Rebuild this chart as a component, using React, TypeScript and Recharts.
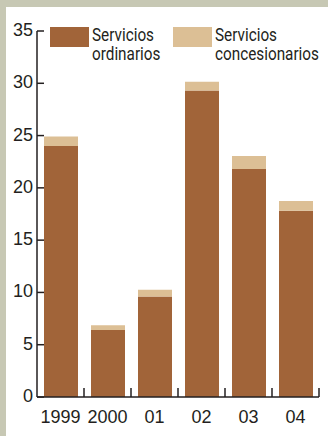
import { BarChart, Bar, XAxis, YAxis } from 'recharts'

const YEARS = ['1999', '2000', '01', '02', '03', '04']
const ORDINARIOS = [24.0, 6.4, 9.6, 29.3, 21.8, 17.8]
const CONCESIONARIOS = [0.9, 0.45, 0.65, 0.85, 1.25, 0.95]
const Y_TICKS = [0, 5, 10, 15, 20, 25, 30, 35]

const SERIES = [
    { key: 'ordinarios', lines: ['Servicios', 'ordinarios'], color: '#a16439' },
    { key: 'concesionarios', lines: ['Servicios', 'concesionarios'], color: '#dcbf95' },
]

const INK = '#231f20'
const FONT = 'Arial, "Liberation Sans", sans-serif'

const data = YEARS.map((year, i) => ({
    year,
    ordinarios: ORDINARIOS[i],
    concesionarios: CONCESIONARIOS[i],
}))

// y ticks: label left of the axis, short mark pointing into the plot
function YTick(props: any) {
    const { x, y, payload } = props
    return (
        <g>
            <line x1={x + 4} x2={x + 11} y1={y} y2={y} stroke={INK} strokeWidth={1.5} />
            <text x={x} y={y} dy={5} textAnchor="end" fontSize={18} fill={INK} fontFamily={FONT}>
                {payload.value}
            </text>
        </g>
    )
}

// x ticks: label under the band, upward mark on the band's right edge
function XTick(props: any) {
    const { x, y, payload, width, visibleTicksCount } = props
    const half = (width ?? 282) / (visibleTicksCount ?? YEARS.length) / 2
    return (
        <g>
            <line x1={x + half} x2={x + half} y1={y} y2={y - 9} stroke={INK} strokeWidth={1.5} />
            <text x={x} y={y} dy={26} textAnchor="middle" fontSize={18} fill={INK} fontFamily={FONT}>
                {payload.value}
            </text>
        </g>
    )
}

// condensed two-line legend sitting inside the plot, top left
function LegendBox() {
    return (
        <div style={{ position: 'absolute', left: 50, top: 27, display: 'flex' }}>
            {SERIES.map((s) => (
                <div key={s.key} style={{ display: 'flex', alignItems: 'flex-start', width: 123 }}>
                    <span style={{ width: 39, height: 20, background: s.color, flex: 'none' }} />
                    <span style={{
                        marginLeft: 3, marginTop: -2, fontSize: 18, lineHeight: '19px',
                        color: INK, fontFamily: 'Roboto, sans-serif', whiteSpace: 'nowrap',
                        display: 'inline-block', transform: 'scaleX(0.85)', transformOrigin: 'left top',
                    }}>
                        {s.lines[0]}<br />{s.lines[1]}
                    </span>
                </div>
            ))}
        </div>
    )
}

export default function App() {
    return (
        <div style={{ position: 'absolute', left: 0, top: 0, width: 328, height: 436, background: '#c7c8b4' }}>
            <div style={{ position: 'absolute', left: 6, top: 7, right: 0, bottom: 0, background: '#ffffff' }} />
            <div style={{ position: 'absolute', left: 0, top: 0 }}>
                <BarChart width={328} height={436} data={data} margin={{ top: 31, right: 9, left: 7, bottom: 9 }}>
                    <XAxis
                        dataKey="year"
                        height={30}
                        tickLine={false}
                        tickSize={0}
                        tickMargin={0}
                        axisLine={{ stroke: INK, strokeWidth: 1.5 }}
                        tick={<XTick />}
                        interval={0}
                    />
                    <YAxis
                        width={30}
                        domain={[0, 35]}
                        ticks={Y_TICKS}
                        tickLine={false}
                        tickSize={0}
                        tickMargin={4}
                        axisLine={{ stroke: INK, strokeWidth: 1.5 }}
                        tick={<YTick />}
                        interval={0}
                    />
                    {SERIES.map((s) => (
                        <Bar key={s.key} dataKey={s.key} stackId="a" fill={s.color} barSize={34} isAnimationActive={false} />
                    ))}
                </BarChart>
            </div>
            <LegendBox />
        </div>
    )
}
